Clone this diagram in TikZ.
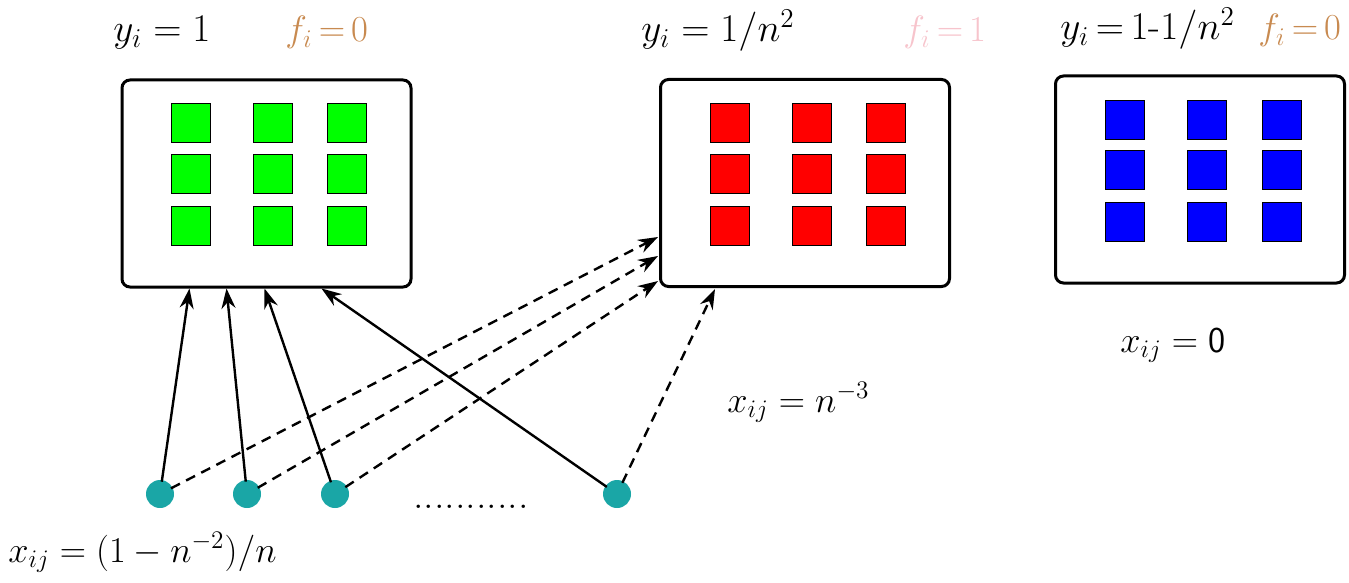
\documentclass[tikz,border=0pt]{standalone}
\usetikzlibrary{arrows.meta,calc}
\definecolor{sqgreen}{RGB}{0,255,0}
\definecolor{sqred}{RGB}{255,0,0}
\definecolor{sqblue}{RGB}{0,0,255}
\definecolor{teal2}{RGB}{26,166,166}
\definecolor{fbrown}{RGB}{200,138,80}
\definecolor{fpink}{RGB}{247,196,204}
\begin{document}
\begin{tikzpicture}[x=0.5pt,y=-0.5pt,
  bigbox/.style={draw,line width=1.5pt,rounded corners=4pt,minimum width=144.5pt,minimum height=103.5pt,inner sep=0pt},
  sq/.style={draw,line width=0.5pt,minimum size=19.5pt,inner sep=0pt},
  dotnode/.style={circle,fill=teal2,minimum size=14pt,inner sep=0pt},
  lbl/.style={inner sep=0pt,anchor=base west,font=\fontsize{17.28}{20}\selectfont,scale=1.134,transform shape},
  flbl/.style={inner sep=0pt,anchor=base west,font=\fontsize{17.28}{20}\selectfont,scale=1.06,transform shape},
  lblb/.style={inner sep=0pt,anchor=base west,font=\fontsize{17.28}{20}\selectfont,scale=1.053,transform shape},
  solidarr/.style={line width=1.2pt,-{Stealth[length=10pt,width=7pt]},shorten <=-1pt},
  dasharr/.style={line width=1.2pt,dash pattern=on 5pt off 3.5pt,-{Stealth[length=10pt,width=7pt]},shorten <=-1pt}]
\useasboundingbox (0,0) rectangle (1349,583);
% boxes
\node[bigbox] (b1) at (266.5,183.5) {};
\node[bigbox] (b2) at (805,183) {};
\node[bigbox] (b3) at (1200,179.5) {};
% squares
\foreach \c/\x in {1/190.5,2/272.5,3/347}{
  \foreach \r/\y in {1/123,2/174,3/226}{
    \node[sq,fill=sqgreen] (g\c\r) at (\x,\y) {};
  }}
\foreach \c/\x in {1/729.5,2/811.5,3/886}{
  \foreach \r/\y in {1/123,2/174,3/226}{
    \node[sq,fill=sqred] (r\c\r) at (\x,\y) {};
  }}
\foreach \c/\x in {1/1124.5,2/1206.5,3/1281.5}{
  \foreach \r/\y in {1/120,2/170,3/222}{
    \node[sq,fill=sqblue] (u\c\r) at (\x,\y) {};
  }}
% circles
\node[dotnode] (c1) at (160,494) {};
\node[dotnode] (c2) at (247,494) {};
\node[dotnode] (c3) at (335,494) {};
\node[dotnode] (c4) at (617,494) {};
% arrows
\draw[solidarr] (c1) -- ($(b1.south west)+(69,0)$);
\draw[solidarr] (c2) -- ($(b1.south west)+(106,0)$);
\draw[solidarr] (c3) -- ($(b1.south west)+(144,0)$);
\draw[solidarr] (c4) -- ($(b1.south west)+(201,0)$);
\draw[dasharr] (c1) -- ($(b2.north west)+(-1,159)$);
\draw[dasharr] (c2) -- ($(b2.north west)+(-1,178)$);
\draw[dasharr] (c3) -- ($(b2.north west)+(-1,203)$);
\draw[dasharr] (c4) -- ($(b2.south west)+(56,1)$);
% labels
\node[lbl] (l1) at (113,42) {$y_i = 1$};
\node[flbl,text=fbrown] (l2) at (285,42) {$f_i\,{=}\,0$};
\node[lbl] (l3) at (641,42) {$y_i = 1/n^2$};
\node[flbl,text=fpink] (l4) at (903,42) {$f_i\,{=}\,1$};
\node[lbl] (l5) at (1060,40) {$y_i\,{=}\,1$-$1/n^2$};
\node[flbl,text=fbrown] (l6) at (1258,40) {$f_i\,{=}\,0$};
\node[lblb] (l7) at (1120,352) {$x_{ij} = \mbox{\sffamily 0}$};
\node[lblb] (l8) at (727,412) {$x_{ij} = n^{-3}$};
\node[lblb] (l9) at (8,562) {$x_{ij} = (1-n^{-2})/n$};
\node[lblb,font=\fontsize{20.74}{24}\selectfont,scale=0.96] (dots) at (413,508) {...........};
\end{tikzpicture}
\end{document}
